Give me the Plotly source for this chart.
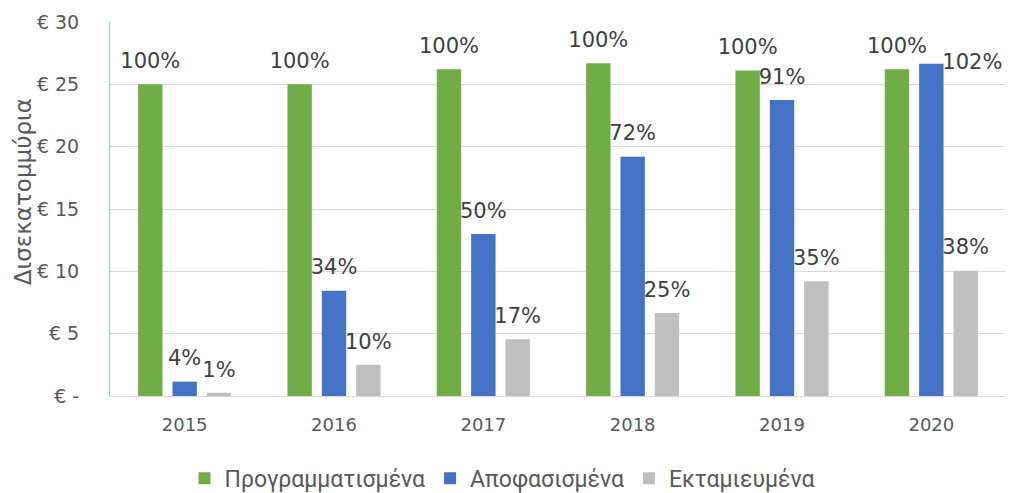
import plotly.graph_objects as go

# Δεδομένα (δισεκατομμύρια €)
years = ["2015", "2016", "2017", "2018", "2019", "2020"]
programmatismena = [25.0, 25.0, 26.2, 26.7, 26.1, 26.2]
apofasismena = [1.15, 8.45, 13.0, 19.2, 23.75, 26.65]
ektamieumena = [0.26, 2.5, 4.55, 6.65, 9.2, 10.05]
pct_prog = ["100%", "100%", "100%", "100%", "100%", "100%"]
pct_apof = ["4%", "34%", "50%", "72%", "91%", "102%"]
pct_ekt = ["1%", "10%", "17%", "25%", "35%", "38%"]
y_ticks = [0, 5, 10, 15, 20, 25, 30]
y_ticktext = ["€ -", "€ 5", "€ 10", "€ 15", "€ 20", "€ 25", "€ 30"]

series = [
    ("Προγραμματισμένα", programmatismena, pct_prog, "#70ad47"),
    ("Αποφασισμένα", apofasismena, pct_apof, "#4472c4"),
    ("Εκταμιευμένα", ektamieumena, pct_ekt, "#bfbfbf"),
]

fig = go.Figure()

# 1. Οι μπάρες
for i, (name, vals, _, color) in enumerate(series):
    fig.add_trace(go.Bar(
        x=years, y=vals, name=name, offsetgroup=str(i),
        marker=dict(color=color, line=dict(width=0)),
        hoverinfo="skip"
    ))

# 2. Ετικέτες ποσοστών (αόρατο scatter στην ίδια ομάδα)
for i, (name, vals, labels, color) in enumerate(series):
    pos = ["top center"] * len(vals)
    if labels[-1] == "102%":
        pos[-1] = "middle right"
    fig.add_trace(go.Scatter(
        x=years, y=vals, offsetgroup=str(i), mode="markers+text",
        text=labels, textposition=pos,
        textfont=dict(family="DejaVu Sans", size=21, color="#404040"),
        marker=dict(size=16, opacity=0),
        showlegend=False, hoverinfo="skip", cliponaxis=False
    ))

# 3. Τίτλος άξονα
fig.add_annotation(
    text="Δισεκατομμύρια", textangle=-90, showarrow=False,
    xref="paper", yref="paper", x=-0.097, y=0.545,
    xanchor="center", yanchor="middle",
    font=dict(family="DejaVu Sans", size=23, color="#595959")
)

# el body de la página deja 8 px de margen: se compensa aquí
fig.update_layout(
    width=1005, height=485,
    paper_bgcolor="white", plot_bgcolor="white",
    margin=dict(l=102, r=7, t=14, b=97, autoexpand=False),
    barmode="group", bargap=0.31, bargroupgap=0.29,
    scattermode="group", scattergap=0.31,
    font=dict(family="DejaVu Sans", color="#595959"),
    legend=dict(
        orientation="h", x=0.4375, y=-0.22, xanchor="center", yanchor="middle",
        font=dict(family="Roboto", size=23, color="#595959"),
        itemwidth=30, traceorder="normal"
    ),
    xaxis=dict(
        automargin=False,
        showgrid=False, showline=True, linecolor="#d9d9d9",
        tickfont=dict(size=18, color="#595959"), ticklabelstandoff=12
    ),
    yaxis=dict(
        automargin=False,
        range=[0, 30], tickvals=y_ticks, ticktext=y_ticktext,
        showgrid=True, gridcolor="#d9d9d9", gridwidth=1,
        zeroline=False, showline=True, linecolor="#9dc3e6",
        tickfont=dict(size=19, color="#595959"), ticklabelstandoff=26
    ),
)

fig.write_html("out.html")
